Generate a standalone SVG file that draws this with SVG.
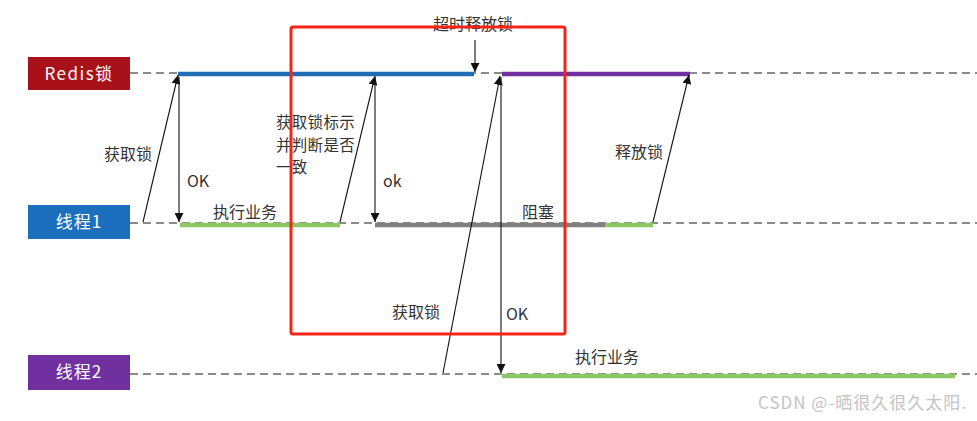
<svg xmlns="http://www.w3.org/2000/svg" width="977" height="421" viewBox="0 0 977 421">
<defs>
<marker id="ah" viewBox="0 0 10 10" refX="10" refY="5" markerWidth="9" markerHeight="9" markerUnits="userSpaceOnUse" orient="auto"><path d="M0,0 L10,5 L0,10 z" fill="#111"/></marker>
<style>
.lbl{font-family:"Noto Sans CJK SC","Noto Sans",sans-serif;font-size:16px;fill:#333}
.box{font-family:"Noto Sans CJK SC","Noto Sans",sans-serif;font-size:17px;fill:#fff;text-anchor:middle}
.dash{stroke:#666;stroke-width:1.3;stroke-dasharray:8,5;fill:none}
.arr{stroke:#111;stroke-width:1.1;fill:none;marker-end:url(#ah)}
.bar{stroke-width:4.5;fill:none}
</style>
</defs>
<rect width="977" height="421" fill="#fff"/>
<g id="lifelines">
<line class="dash" x1="130" y1="73" x2="977" y2="73"/>
<line class="dash" x1="130" y1="223" x2="977" y2="223"/>
<line class="dash" x1="130" y1="374" x2="977" y2="374"/>
</g>
<g id="redis-lock"><rect x="28" y="57" width="102" height="33" fill="#a8111a"/><text class="box" x="79" y="80" letter-spacing="1.5">Redis锁</text></g>
<g id="thread1"><rect x="28" y="205" width="102" height="34" fill="#1b6fbd"/><text class="box" x="79" y="228" letter-spacing="1">线程1</text></g>
<g id="thread2"><rect x="28" y="355" width="102" height="35" fill="#7030a0"/><text class="box" x="79" y="378" letter-spacing="1">线程2</text></g>
<g id="bars">
<line class="bar" stroke="#1f6db5" x1="178" y1="74" x2="474" y2="74"/>
<line class="bar" stroke="#7030a0" x1="502" y1="74" x2="690" y2="74"/>
<line class="bar" stroke="#8cc864" x1="180" y1="225" x2="340" y2="225"/>
<line class="bar" stroke="#808080" x1="375" y1="225" x2="605" y2="225"/>
<line class="bar" stroke="#8cc864" x1="605" y1="225" x2="653" y2="225"/>
<line class="bar" stroke="#8cc864" x1="502" y1="376" x2="955" y2="376"/>
</g>
<g id="connectors">
<line class="arr" x1="143" y1="222" x2="178" y2="75"/>
<line class="arr" x1="179" y1="77" x2="179" y2="222"/>
<line class="arr" x1="340" y1="222" x2="375" y2="76"/>
<line class="arr" x1="375" y1="77" x2="375" y2="222"/>
<line class="arr" x1="475" y1="40" x2="475" y2="72"/>
<line class="arr" x1="443" y1="373" x2="500" y2="76"/>
<line class="arr" x1="501" y1="77" x2="501" y2="373"/>
<line class="arr" x1="653" y1="222" x2="689" y2="75"/>
</g>
<g id="labels">
<text class="lbl" x="104" y="160">获取锁</text>
<text class="lbl" x="187" y="187">OK</text>
<text class="lbl" x="213" y="218">执行业务</text>
<text class="lbl" x="276" y="128" style="font-size:15.5px" letter-spacing="0.3"><tspan x="276">获取锁标示</tspan><tspan x="276" dy="22.5">并判断是否</tspan><tspan x="276" dy="22.5">一致</tspan></text>
<text class="lbl" x="383" y="187">ok</text>
<text class="lbl" x="433" y="30">超时释放锁</text>
<text class="lbl" x="522" y="218">阻塞</text>
<text class="lbl" x="392" y="318">获取锁</text>
<text class="lbl" x="506" y="320">OK</text>
<text class="lbl" x="615" y="158">释放锁</text>
<text class="lbl" x="575" y="363">执行业务</text>
</g>
<rect id="highlight" x="291" y="27" width="274" height="307" rx="2" fill="none" stroke="#f52419" stroke-width="3"/>
<text x="758" y="409" letter-spacing="1" style="font-family:'Noto Sans CJK SC','Liberation Sans',sans-serif;font-size:17px;fill:#c4c4c4">CSDN @-晒很久很久太阳.</text>
</svg>
